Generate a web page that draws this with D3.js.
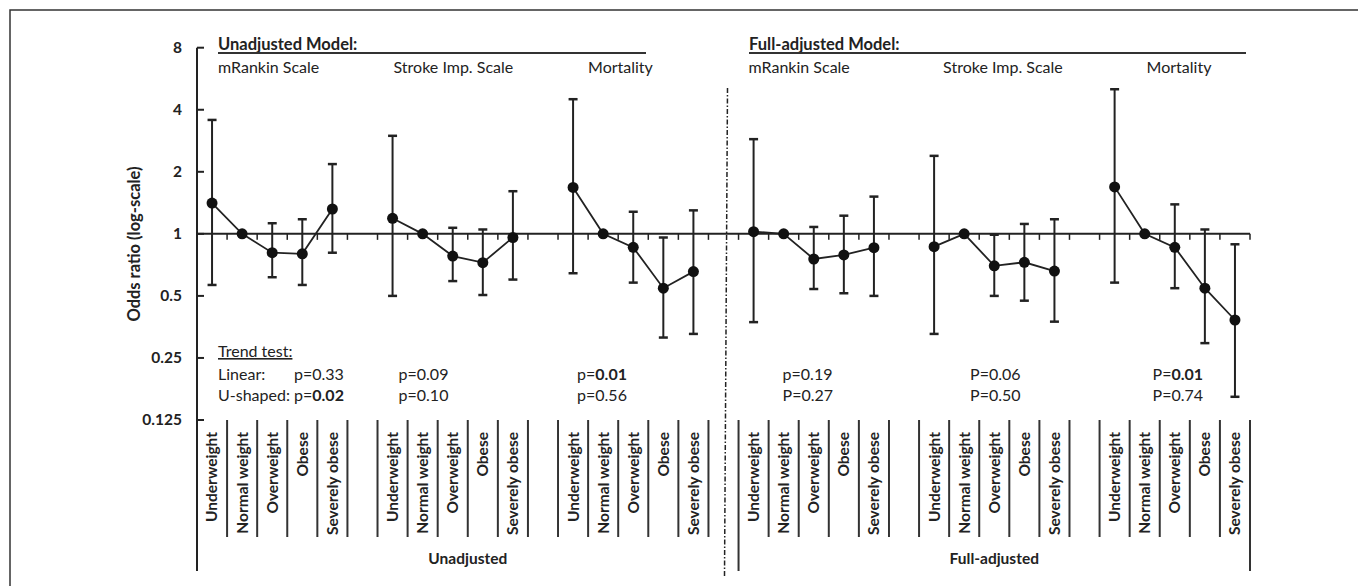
<!DOCTYPE html>
<html lang="en">
<head>
    <meta charset="UTF-8">
    <title>Odds ratio by BMI category</title>
    <script src="https://d3js.org/d3.v7.min.js"></script>
    <style>
        body {
            margin: 0;
            padding: 0;
            background: #fff;
        }
        text {
            font-family: Lato, "Open Sans", sans-serif;
            fill: #222;
        }
        .bold {
            font-weight: bold;
        }
    </style>
</head>
<body>
    <script>
        // data
        const categories = ['Underweight', 'Normal weight', 'Overweight', 'Obese', 'Severely obese'];
        const outcomes = ['mRankin Scale', 'Stroke Imp. Scale', 'Mortality'];
        const models = ['Unadjusted', 'Full-adjusted'];
        const modelTitles = ['Unadjusted Model:', 'Full-adjusted Model:'];
        const yTicks = [8, 4, 2, 1, 0.5, 0.25, 0.125];

        // one row per panel: unadjusted (rankin, stroke, mortality), then full-adjusted
        const oddsRatio = [
            [1.41, 1, 0.81, 0.80, 1.32],
            [1.19, 1, 0.78, 0.725, 0.96],
            [1.68, 1, 0.86, 0.545, 0.656],
            [1.025, 1, 0.755, 0.79, 0.857],
            [0.867, 1, 0.70, 0.728, 0.66],
            [1.69, 1, 0.86, 0.545, 0.382]
        ];
        const lowerCI = [
            [0.565, null, 0.616, 0.565, 0.81],
            [0.50, null, 0.59, 0.505, 0.60],
            [0.644, null, 0.58, 0.314, 0.327],
            [0.373, null, 0.54, 0.515, 0.50],
            [0.327, null, 0.50, 0.474, 0.375],
            [0.58, null, 0.545, 0.295, 0.162]
        ];
        const upperCI = [
            [3.57, null, 1.126, 1.177, 2.18],
            [2.99, null, 1.07, 1.05, 1.61],
            [4.5, null, 1.28, 0.96, 1.30],
            [2.88, null, 1.08, 1.225, 1.516],
            [2.39, null, 0.99, 1.117, 1.177],
            [5.03, null, 1.39, 1.05, 0.89]
        ];

        const linearP = ['p=', 'p=', 'p=', 'p=', 'P=', 'P='];
        const linearVal = ['0.33', '0.09', '0.01', '0.19', '0.06', '0.01'];
        const linearBold = [false, false, true, false, false, true];
        const ushapedP = ['p=', 'p=', 'p=', 'P=', 'P=', 'P='];
        const ushapedVal = ['0.02', '0.10', '0.56', '0.27', '0.50', '0.74'];
        const ushapedBold = [true, false, false, false, false, false];

        const width = 1358, height = 586;
        const nSlots = 35; // 6 panels of 5 + gaps

        const svg = d3.select('body').append('svg')
            .attr('width', width)
            .attr('height', height);

        const x = d3.scaleLinear().domain([-0.5, nSlots - 0.5]).range([197, 1250]);
        const y = d3.scaleLog().base(2).domain([0.125, 8]).range([420, 47.7]);
        const slot = (p, i) => p * 6 + i;

        // outer frame
        svg.append('path')
            .attr('d', 'M10,586 V10 H1358')
            .attr('fill', 'none')
            .attr('stroke', '#333')
            .attr('stroke-width', 1.5);

        // y axis
        svg.append('line')
            .attr('x1', 197).attr('x2', 197)
            .attr('y1', y(8)).attr('y2', 571)
            .attr('stroke', '#222').attr('stroke-width', 2);

        const yAxis = svg.append('g');
        yAxis.selectAll('line')
            .data(yTicks)
            .enter().append('line')
            .attr('x1', 197).attr('x2', 204)
            .attr('y1', d => y(d)).attr('y2', d => y(d))
            .attr('stroke', '#222').attr('stroke-width', 2);
        yAxis.selectAll('text')
            .data(yTicks)
            .enter().append('text')
            .attr('class', 'bold')
            .attr('x', 182)
            .attr('y', d => y(d))
            .attr('dy', '0.35em')
            .attr('text-anchor', 'end')
            .style('font-size', '15.5px')
            .text(d => d);

        svg.append('text')
            .attr('class', 'bold')
            .attr('transform', 'translate(140,' + 244 + ') rotate(-90)')
            .attr('text-anchor', 'middle')
            .style('font-size', '16.5px')
            .text('Odds ratio (log-scale)');

        // reference line at OR = 1 with minor ticks
        svg.append('line')
            .attr('x1', 197).attr('x2', 1250)
            .attr('y1', y(1)).attr('y2', y(1))
            .attr('stroke', '#222').attr('stroke-width', 2);
        svg.append('g').selectAll('line')
            .data(d3.range(nSlots))
            .enter().append('line')
            .attr('x1', d => x(d + 0.5)).attr('x2', d => x(d + 0.5))
            .attr('y1', y(1)).attr('y2', y(1) + 6)
            .attr('stroke', '#222').attr('stroke-width', 1.5);

        // separator between models
        svg.append('line')
            .attr('x1', x(17) + 4).attr('x2', x(17) + 1)
            .attr('y1', 88).attr('y2', 576)
            .attr('stroke', '#222').attr('stroke-width', 1.5)
            .attr('stroke-dasharray', '5,2,1.5,2');

        // headers
        const headerX = [218, 749];
        const headerEnd = [646, 1246];
        models.forEach((m, k) => {
            svg.append('text')
                .attr('class', 'bold')
                .attr('x', headerX[k]).attr('y', 50)
                .style('font-size', '16.5px')
                .text(modelTitles[k]);
            svg.append('line')
                .attr('x1', headerX[k]).attr('x2', headerEnd[k])
                .attr('y1', 53).attr('y2', 53)
                .attr('stroke', '#333').attr('stroke-width', 2);
        });

        const outcomeOffset = [6, 1, 15, -5, 9, 32];
        for (let p = 0; p < 6; p++) {
            svg.append('text')
                .attr('x', x(slot(p, 0)) + outcomeOffset[p])
                .attr('y', 73)
                .style('font-size', '16px')
                .text(outcomes[p % 3]);
        }

        // trend tests
        svg.append('text')
            .attr('x', 218).attr('y', 357)
            .style('font-size', '16px')
            .style('text-decoration', 'underline')
            .text('Trend test:');
        svg.append('text').attr('x', 218).attr('y', 380).style('font-size', '16px').text('Linear:');
        svg.append('text').attr('x', 218).attr('y', 401).style('font-size', '16px').text('U-shaped:');

        const pOffset = [82, 6, 4, 29, 36, 38];
        function pText(yy, prefix, val, bold, p) {
            const t = svg.append('text')
                .attr('x', x(slot(p, 0)) + pOffset[p])
                .attr('y', yy)
                .style('font-size', '16px');
            t.append('tspan').text(prefix[p]);
            t.append('tspan').attr('class', bold[p] ? 'bold' : null).text(val[p]);
        }
        for (let p = 0; p < 6; p++) {
            pText(380, linearP, linearVal, linearBold, p);
            pText(401, ushapedP, ushapedVal, ushapedBold, p);
        }

        // category label cells
        svg.append('g').selectAll('line')
            .data(d3.range(nSlots))
            .enter().append('line')
            .attr('x1', d => x(d + 0.5)).attr('x2', d => x(d + 0.5))
            .attr('y1', 420)
            .attr('y2', d => (d === 17 || d === 34) ? 571 : 537)
            .attr('stroke', '#333').attr('stroke-width', 2);

        for (let p = 0; p < 6; p++) {
            svg.append('g').selectAll('text')
                .data(categories)
                .enter().append('text')
                .attr('class', 'bold')
                .attr('transform', (d, i) => 'translate(' + x(slot(p, i)) + ',432) rotate(-90)')
                .attr('dy', '0.35em')
                .attr('text-anchor', 'end')
                .style('font-size', '15.5px')
                .text(d => d);
        }

        svg.append('text').attr('class', 'bold')
            .attr('x', (197 + x(17.5)) / 2).attr('y', 564)
            .attr('text-anchor', 'middle').style('font-size', '15.5px')
            .text(models[0]);
        svg.append('text').attr('class', 'bold')
            .attr('x', (x(17.5) + x(34.5)) / 2).attr('y', 564)
            .attr('text-anchor', 'middle').style('font-size', '15.5px')
            .text(models[1]);

        // panels: connecting lines, error bars, points
        const line = d3.line()
            .x(d => x(d.s))
            .y(d => y(d.or));

        for (let p = 0; p < 6; p++) {
            const pts = categories.map((c, i) => ({
                s: slot(p, i),
                or: oddsRatio[p][i],
                lo: lowerCI[p][i],
                hi: upperCI[p][i]
            }));
            const g = svg.append('g');

            g.append('path')
                .datum(pts)
                .attr('d', line)
                .attr('fill', 'none')
                .attr('stroke', '#222')
                .attr('stroke-width', 1.8);

            const bars = pts.filter(d => d.lo !== null);
            g.selectAll('.ci')
                .data(bars)
                .enter().append('line')
                .attr('x1', d => x(d.s)).attr('x2', d => x(d.s))
                .attr('y1', d => y(d.lo)).attr('y2', d => y(d.hi))
                .attr('stroke', '#222').attr('stroke-width', 2);
            g.selectAll('.capHi')
                .data(bars)
                .enter().append('line')
                .attr('x1', d => x(d.s) - 4.5).attr('x2', d => x(d.s) + 4.5)
                .attr('y1', d => y(d.hi)).attr('y2', d => y(d.hi))
                .attr('stroke', '#222').attr('stroke-width', 2.5);
            g.selectAll('.capLo')
                .data(bars)
                .enter().append('line')
                .attr('x1', d => x(d.s) - 4.5).attr('x2', d => x(d.s) + 4.5)
                .attr('y1', d => y(d.lo)).attr('y2', d => y(d.lo))
                .attr('stroke', '#222').attr('stroke-width', 2.5);

            g.selectAll('circle')
                .data(pts)
                .enter().append('circle')
                .attr('cx', d => x(d.s))
                .attr('cy', d => y(d.or))
                .attr('r', 5.5)
                .attr('fill', '#111');
        }
    </script>
</body>
</html>
